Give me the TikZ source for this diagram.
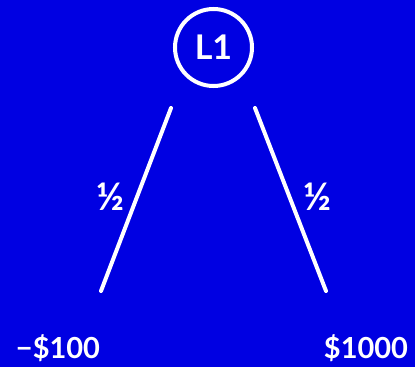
\documentclass[tikz,border=0pt]{standalone}
\usepackage{fontspec}
\setmainfont{Lato}
\definecolor{bgblue}{RGB}{0,0,226}
\begin{document}
\begin{tikzpicture}[x=1pt,y=-1pt,
  lotto/.style={circle,draw=white,line width=4pt,minimum size=77pt,inner sep=0pt,text=white,font=\fontsize{34}{38}\selectfont\bfseries},
  branch/.style={white,line width=4pt,line cap=round},
  prob/.style={text=white,font=\fontsize{38}{40}\selectfont\bfseries,inner sep=0pt},
  payoff/.style={text=white,font=\fontsize{29}{32}\selectfont\bfseries,inner sep=0pt}]
\fill[bgblue] (0,0) rectangle (415,367);
\useasboundingbox (0,0) rectangle (415,367);
\node[lotto] (L) at (213.5,47.5) {L1};
\coordinate (lt) at (171,108);
\coordinate (lb) at (101,291);
\coordinate (rt) at (255,108);
\coordinate (rb) at (326,291);
\draw[branch] (lt) -- (lb);
\draw[branch] (rt) -- (rb);
\node[prob] (pl) at (110,197) {½};
\node[prob] (pr) at (317,197) {½};
\node[payoff] (ol) at (58,348) {−\$100};
\node[payoff] (or) at (366,348) {\$1000};
\end{tikzpicture}
\end{document}
